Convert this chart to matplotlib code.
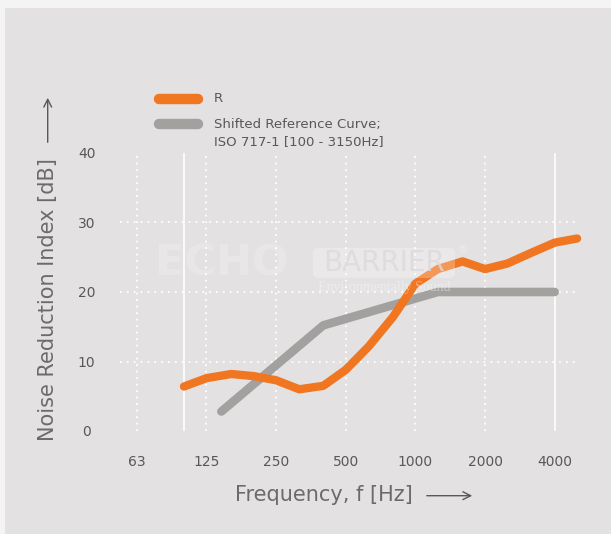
import matplotlib
matplotlib.use("Agg")
import matplotlib.pyplot as plt
from matplotlib.lines import Line2D
from matplotlib.patches import Rectangle, FancyBboxPatch

# ---- data ----
freq_r = [100, 125, 160, 200, 250, 315, 400, 500, 630, 800, 1000, 1250,
          1600, 2000, 2500, 3150, 4000, 5000]
r_vals = [6.4, 7.6, 8.2, 7.9, 7.3, 6.0, 6.5, 8.8, 12.2, 16.4, 21.2, 23.3,
          24.4, 23.3, 24.1, 25.6, 27.1, 27.7]
freq_ref = [145, 400, 1250, 4000]
ref_vals = [2.8, 15.2, 20.0, 20.0]
xtick_pos = [62.5, 125, 250, 500, 1000, 2000, 4000]
xtick_labels = ["63", "125", "250", "500", "1000", "2000", "4000"]
ytick_pos = [0, 10, 20, 30, 40]
dotted_x = [62.5, 125, 250, 500, 1000, 2000]
solid_x = [100, 4000]
legend_labels = ["R", "Shifted Reference Curve;\nISO 717-1 [100 - 3150Hz]"]

W, H = 611, 534
ORANGE = "#f07622"
GREY = "#a3a19f"
TXT = "#58585a"
plt.rcParams["font.family"] = ["DejaVu Sans"]

fig = plt.figure(figsize=(W / 100, H / 100), dpi=100, facecolor="#f4f4f4")

def fx(x):
    return x / W

def fy(y):
    return 1 - y / H

# panel background
fig.patches.append(Rectangle((fx(5), 0), 1, fy(8), transform=fig.transFigure,
                             facecolor="#e3e1e2", edgecolor="none", zorder=-5))

ax = fig.add_axes([fx(120), fy(431), (578 - 120) / W, (431 - 153) / H])
ax.set_zorder(1)
ax.set_facecolor("none")
ax.set_xscale("log", base=2)
ax.set_xlim(52.9, 5046)
ax.set_ylim(0, 40)
for s in ax.spines.values():
    s.set_visible(False)

for xv in dotted_x:
    ax.axvline(xv, color="white", lw=1.3, linestyle=(0, (1, 2.6)), zorder=1)
for xv in solid_x:
    ax.axvline(xv, color="white", lw=1.2, zorder=1)
for yv in [10, 20, 30]:
    ax.axhline(yv, color="white", lw=1.3, linestyle=(0, (1, 2.8)), zorder=1)

ax.plot(freq_ref, ref_vals, color=GREY, lw=6.2, solid_capstyle="round",
        solid_joinstyle="round", zorder=3, clip_on=False)
ax.plot(freq_r, r_vals, color=ORANGE, lw=6.0, solid_capstyle="round",
        solid_joinstyle="round", zorder=4, clip_on=False)

ax.set_xticks(xtick_pos)
ax.set_xticklabels(xtick_labels)
ax.xaxis.set_minor_locator(matplotlib.ticker.NullLocator())
ax.set_yticks(ytick_pos)
ax.set_yticklabels([str(v) for v in ytick_pos], ha="center")
ax.tick_params(axis="x", length=0, pad=17, labelsize=10, labelcolor=TXT)
ax.tick_params(axis="y", length=0, pad=24, labelsize=10, labelcolor=TXT)

# axis titles with arrows
fig.text(fx(48), fy(300), "Noise Reduction Index [dB]", rotation=90,
         ha="center", va="center", fontsize=15, color="#6b6b6d")
fig.text(fx(323.5), fy(495), "Frequency, f [Hz]", ha="center", va="center",
         fontsize=15, color="#6b6b6d")
ax.annotate("", xy=(fx(47.7), fy(95)), xytext=(fx(47.7), fy(145)),
            xycoords="figure fraction", textcoords="figure fraction",
            arrowprops=dict(arrowstyle="->", color=TXT, lw=1.0,
                            mutation_scale=14))
ax.annotate("", xy=(fx(475), fy(495.7)), xytext=(fx(424), fy(495.7)),
            xycoords="figure fraction", textcoords="figure fraction",
            arrowprops=dict(arrowstyle="->", color=TXT, lw=1.0,
                            mutation_scale=14))

# legend (manual)
fig.lines.append(Line2D([fx(159), fx(198)], [fy(99), fy(99)], color=ORANGE,
                        lw=7.5, solid_capstyle="round", transform=fig.transFigure))
fig.lines.append(Line2D([fx(159), fx(198)], [fy(124), fy(124)], color=GREY,
                        lw=7.5, solid_capstyle="round", transform=fig.transFigure))
fig.text(fx(214), fy(99), legend_labels[0], ha="left", va="center",
         fontsize=9.5, color=TXT)
fig.text(fx(214), fy(133), legend_labels[1], ha="left", va="center",
         fontsize=9.5, color=TXT, linespacing=1.45)

# watermark
fig.text(fx(155), fy(263), "ECHO", ha="left", va="center", fontsize=31,
         fontweight="heavy", color="white", alpha=0.2, zorder=10)
box = FancyBboxPatch((fx(313), fy(278)), fx(455) - fx(313), fy(248) - fy(278),
                     boxstyle="round,pad=0,rounding_size=0.008",
                     transform=fig.transFigure, facecolor="white",
                     edgecolor="none", alpha=0.25, zorder=10)
fig.patches.append(box)
fig.text(fx(384), fy(263), "BARRIER", ha="center", va="center", fontsize=20,
         color="#dcdadb", alpha=0.8, zorder=11)
fig.text(fx(463), fy(250), "\u00ae", ha="center", va="center", fontsize=8,
         color="white", alpha=0.4, zorder=11)
fig.text(fx(384), fy(288), "Environmentally Sound", ha="center", va="center",
         fontsize=10, color="white", alpha=0.4, zorder=11,
         family=["Liberation Serif", "DejaVu Serif"])

fig.savefig("out.png", dpi=100, facecolor=fig.get_facecolor())
